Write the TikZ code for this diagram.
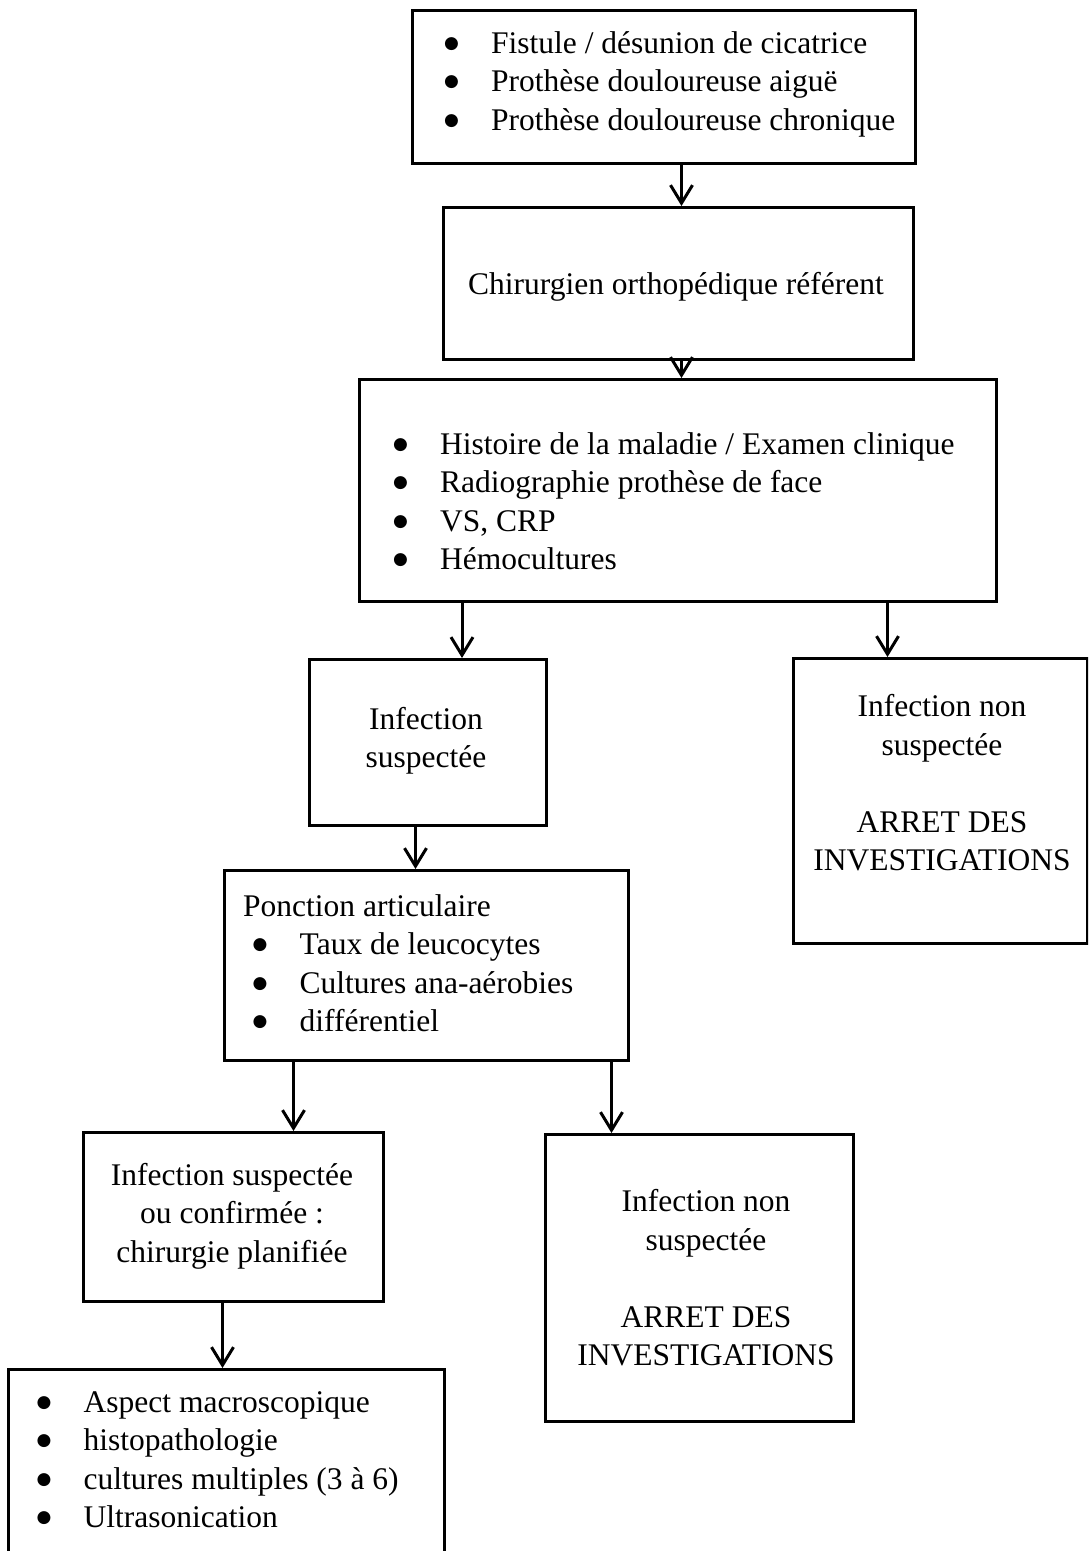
\documentclass[tikz,border=0pt]{standalone}
\usepackage{fontspec}
\setmainfont{Liberation Serif}
\newfontfamily\dotfont{DejaVu Sans}
\usetikzlibrary{arrows.meta}

\tikzset{
	box/.style={draw, line width=3pt, rectangle, inner sep=0pt, anchor=north west},
	txt/.style={inner sep=0pt, font=\fontsize{31.5}{38.5}\selectfont},
	arr/.style={line width=3pt, -{Straight Barb[length=18pt,width=22pt,line width=3pt]}}
}
\newcommand{\bul}{\makebox[47pt][l]{\raisebox{5pt}{\dotfont\fontsize{17}{17}\selectfont ●}}}

\begin{document}
\begin{tikzpicture}[x=1pt, y=-1pt]

\useasboundingbox (0,0) rectangle (1088,1551);
\clip (0,0) rectangle (1088,1551);

% boxes
\node[box, minimum width=503, minimum height=153] (b1) at (411,9) {};
\node[box, minimum width=470, minimum height=152] (b2) at (442,206) {};
\node[box, minimum width=637, minimum height=222] (b3) at (358,378) {};
\node[box, minimum width=237, minimum height=166] (b4) at (308,658) {};
\node[box, minimum width=294, minimum height=285] (b5) at (792,657) {};
\node[box, minimum width=404, minimum height=190] (b6) at (223,869) {};
\node[box, minimum width=300, minimum height=169] (b7) at (82,1131) {};
\node[box, minimum width=308, minimum height=287] (b8) at (544,1133) {};
\node[box, minimum width=436, minimum height=240] (b9) at (7,1368) {};

% texts
\node[txt, align=left, anchor=west] (t1) at (444,84) {\bul Fistule / désunion de cicatrice\\
	\bul Prothèse douloureuse aiguë\\
	\bul Prothèse douloureuse chronique};
\node[txt] (t2) at (676,287) {Chirurgien orthopédique référent};
\node[txt, align=left, anchor=west] (t3) at (393,501) {\bul Histoire de la maladie / Examen clinique\\
	\bul Radiographie prothèse de face\\
	\bul VS, CRP\\
	\bul Hémocultures};
\node[txt, align=center] (t4) at (426,741) {Infection\\suspectée};
\node[txt, align=center] (t5) at (942,783) {Infection non\\suspectée\\[38.5pt]ARRET DES\\INVESTIGATIONS};
\node[txt, align=left, anchor=west] (t6) at (243,963) {Ponction articulaire\\
	\hspace*{9.5pt}\bul Taux de leucocytes\\
	\hspace*{9.5pt}\bul Cultures ana-aérobies\\
	\hspace*{9.5pt}\bul différentiel};
\node[txt, align=center] (t7) at (232,1216) {Infection suspectée\\ou confirmée :\\chirurgie planifiée};
\node[txt, align=center] (t8) at (706,1278) {Infection non\\suspectée\\[38.5pt]ARRET DES\\INVESTIGATIONS};
\node[txt, align=left, anchor=west] (t9) at (36.5,1459.5) {\bul Aspect macroscopique\\
	\bul histopathologie\\
	\bul cultures multiples (3 à 6)\\
	\bul Ultrasonication};

% arrows
\draw[arr] ([xshift=3pt]b2.north |- b1.south) -- ([xshift=3pt]b2.north);
\draw[arr] ([xshift=3.5pt]b3.north |- b2.south) -- ([xshift=3.5pt]b3.north);
\draw[arr] ([xshift=34pt]b4.north |- b3.south) -- ([xshift=34pt]b4.north);
\draw[arr] ([xshift=-53pt]b5.north |- b3.south) -- ([xshift=-53pt]b5.north);
\draw[arr] ([xshift=-11pt]b6.north |- b4.south) -- ([xshift=-11pt]b6.north);
\draw[arr] ([xshift=60pt]b7.north |- b6.south) -- ([xshift=60pt]b7.north);
\draw[arr] ([xshift=-88pt]b8.north |- b6.south) -- ([xshift=-88pt]b8.north);
\draw[arr] ([xshift=-4pt]b9.north |- b7.south) -- ([xshift=-4pt]b9.north);

\end{tikzpicture}
\end{document}
